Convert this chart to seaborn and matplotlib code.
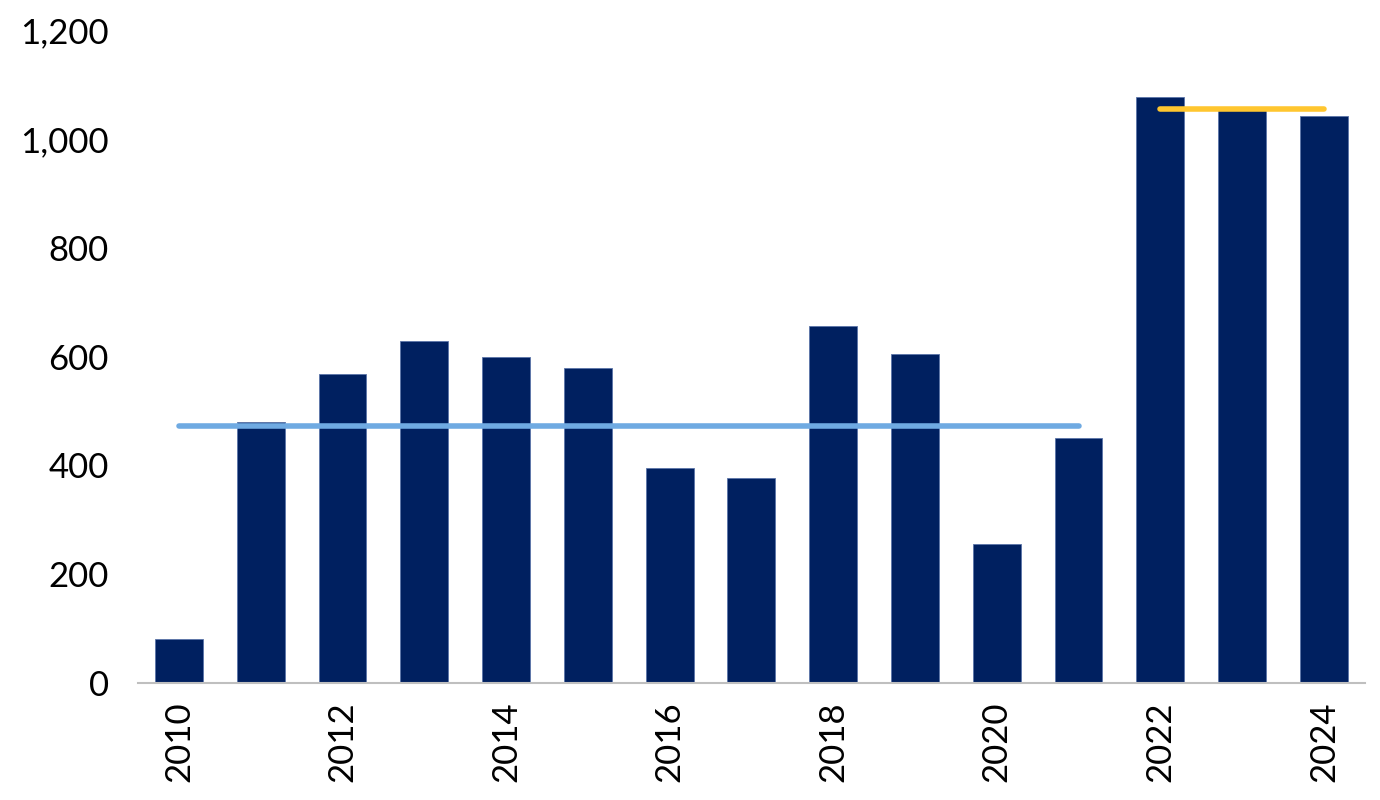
import matplotlib
matplotlib.use("Agg")
import matplotlib.pyplot as plt
import seaborn as sns
import pandas as pd

years = [str(y) for y in range(2010, 2025)]
values = [80, 480, 568, 629, 599, 579, 395, 377, 656, 605, 255, 450, 1077, 1053, 1042]
avg_early = 472      # average 2010-2021
avg_late = 1055      # average 2022-2024
yticks = [0, 200, 400, 600, 800, 1000, 1200]

sns.set_theme(style="white")
plt.rcParams['font.family'] = ['Lato', 'DejaVu Sans']

df = pd.DataFrame({"year": years, "value": values})

fig = plt.figure(figsize=(13.8, 8), dpi=100)
ax = fig.add_axes([0.1, 0.14625, 0.889, 0.81625])

sns.barplot(data=df, x="year", y="value", order=years, color="#002060",
            saturation=1, width=0.585, ax=ax, edgecolor="#5a74a8", linewidth=0.6)

i_2010 = years.index("2010")
i_2021 = years.index("2021")
i_2022 = years.index("2022")
i_2024 = years.index("2024")
ax.plot([i_2010, i_2021], [avg_early, avg_early], color="#6FAAE2", lw=4,
        solid_capstyle="round", zorder=5)
ax.plot([i_2022, i_2024], [avg_late, avg_late], color="#FFC62F", lw=4,
        solid_capstyle="round", zorder=5)

ax.set_xlim(-0.5, len(years) - 0.5)
ax.set_ylim(0, 1200)
ax.set_yticks(yticks)
ax.set_yticklabels([f"{v:,}" for v in yticks], fontsize=25)
ax.set_xticks(range(len(years)))
ax.set_xticklabels([y if int(y) % 2 == 0 else "" for y in years], rotation=90, fontsize=25)
ax.tick_params(axis="y", length=0, pad=21, colors="black")
ax.tick_params(axis="x", length=0, pad=13, colors="black")
ax.set_xlabel("")
ax.set_ylabel("")
for s in ["top", "right", "left"]:
    ax.spines[s].set_visible(False)
ax.spines["bottom"].set_color("#BFBFBF")
ax.spines["bottom"].set_linewidth(1.5)
ax.grid(False)

fig.savefig("out.png", dpi=100)
